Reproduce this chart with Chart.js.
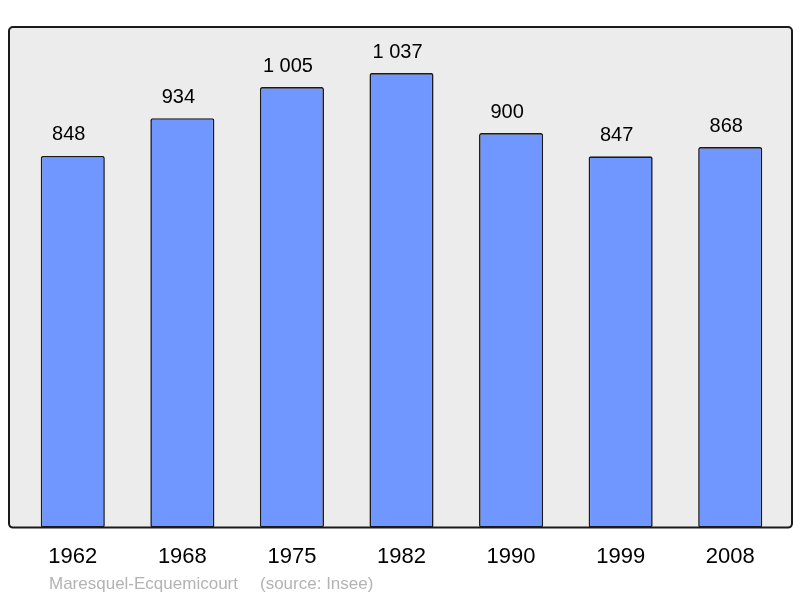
<!DOCTYPE html>
<html>
<head>
<meta charset="utf-8">
<script src="https://cdn.jsdelivr.net/npm/chart.js@4/dist/chart.umd.min.js"></script>
<style>
  html, body { margin: 0; padding: 0; background: #fff; }
  #wrap { width: 800px; height: 598px; }
</style>
</head>
<body>
<div id="wrap"><canvas id="popChart" width="800" height="598"></canvas></div>
<script>
// ---------- data ----------
const years = ["1962", "1968", "1975", "1982", "1990", "1999", "2008"];
const population = [848, 934, 1005, 1037, 900, 847, 868];
const townName = "Maresquel-Ecquemicourt";
const sourceText = "(source: Insee)";

function fmt(n) {
    // french style thousands separator
    return String(n).replace(/\B(?=(\d{3})+(?!\d))/g, " ");
}

// gray panel with rounded border behind the bars
const panelPlugin = {
    id: "panel",
    beforeDraw(chart) {
        const { ctx, chartArea } = chart;
        const x = chartArea.left - 9, y = chartArea.top;
        const w = chartArea.right + 7 - x, h = chartArea.bottom - y;
        ctx.save();
        ctx.beginPath();
        ctx.roundRect(x, y, w, h, 4);
        ctx.fillStyle = "#ececec";
        ctx.fill();
        ctx.restore();
    },
    afterDatasetsDraw(chart) {
        const { ctx, chartArea } = chart;
        const x = chartArea.left - 9, y = chartArea.top;
        const w = chartArea.right + 7 - x, h = chartArea.bottom - y;
        ctx.save();
        ctx.beginPath();
        ctx.roundRect(x, y, w, h, 4);
        ctx.lineWidth = 2;
        ctx.strokeStyle = "#1a1a1a";
        ctx.stroke();

        // footer
        ctx.font = "17px 'Liberation Sans', Arial, sans-serif";
        ctx.fillStyle = "#b3b3b3";
        ctx.textBaseline = "middle";
        ctx.textAlign = "left";
        ctx.fillText(townName, 49, 584);
        ctx.fillText(sourceText, 260, 584);
        ctx.restore();
    }
};

// value above every bar (slightly left of centre, like the original)
const valueLabels = {
    id: "valueLabels",
    afterDatasetsDraw(chart) {
        const { ctx } = chart;
        const meta = chart.getDatasetMeta(0);
        ctx.save();
        ctx.font = "20px 'Liberation Sans', Arial, sans-serif";
        ctx.fillStyle = "#000";
        ctx.textAlign = "center";
        ctx.textBaseline = "middle";
        meta.data.forEach((bar, i) => {
            ctx.fillText(fmt(population[i]), bar.x - 4, bar.y - 21);
        });
        ctx.restore();
    }
};

new Chart(document.getElementById("popChart").getContext("2d"), {
    type: "bar",
    data: {
        labels: years,
        datasets: [{
            data: population,
            backgroundColor: "#7096ff",
            borderColor: "#1a1a1a",
            borderWidth: 1.6,
            borderRadius: 2,
            borderSkipped: false,
            barPercentage: 0.585,
            categoryPercentage: 1
        }]
    },
    options: {
        responsive: false,
        animation: false,
        devicePixelRatio: 1,
        layout: { padding: { left: 18, right: 15, top: 27, bottom: 12 } },
        plugins: { legend: { display: false }, tooltip: { enabled: false } },
        scales: {
            x: {
                grid: { display: false, drawTicks: false },
                border: { display: false },
                ticks: {
                    padding: 16,
                    color: "#000",
                    font: { family: "'Liberation Sans', Arial, sans-serif", size: 22 }
                }
            },
            y: {
                display: false,
                min: 0,
                max: 1142
            }
        }
    },
    plugins: [panelPlugin, valueLabels]
});
</script>
</body>
</html>
